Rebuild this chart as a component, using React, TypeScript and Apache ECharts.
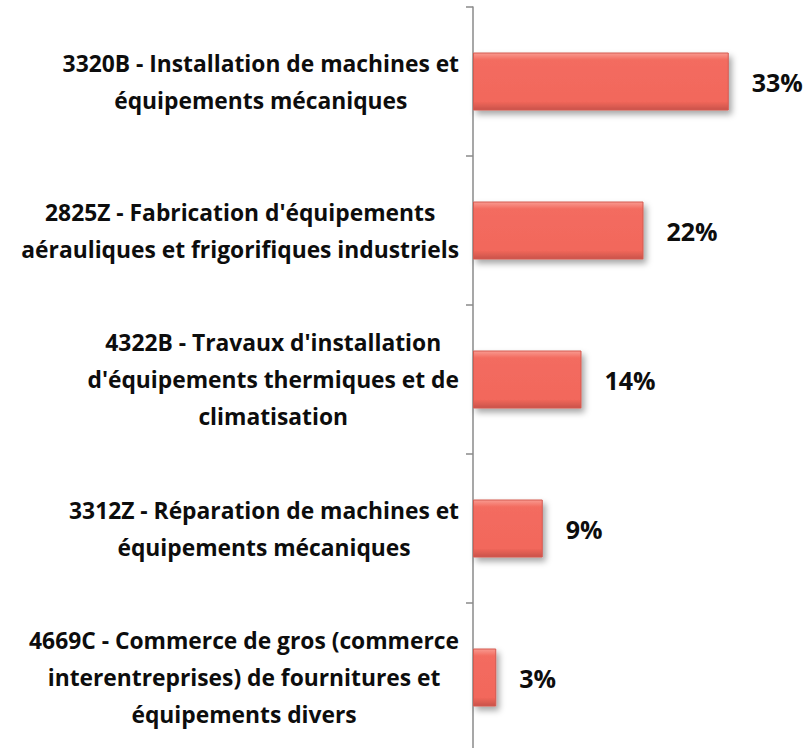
import React, { useEffect, useRef } from "react";
import * as echarts from "echarts";

const categories: string[][] = [
  ["3320B - Installation de machines et", "équipements mécaniques"],
  ["2825Z - Fabrication d'équipements", "aérauliques et frigorifiques industriels"],
  ["4322B - Travaux d'installation", "d'équipements thermiques et de", "climatisation"],
  ["3312Z - Réparation de machines et", "équipements mécaniques"],
  ["4669C - Commerce de gros (commerce", "interentreprises) de fournitures et", "équipements divers"],
];
const values: number[] = [33, 22, 14, 9, 3];

const FONT = "'Open Sans', Lato, sans-serif";

export default function App() {
  const ref = useRef<HTMLDivElement>(null);
  useEffect(() => {
    if (!ref.current) return;
    const chart = echarts.init(ref.current, null, { renderer: "svg" });
    chart.setOption({
      animation: false,
      backgroundColor: "#ffffff",
      grid: { left: 473, right: 26, top: 7, bottom: -4, containLabel: false, outerBoundsMode: "none" },
      xAxis: { type: "value", min: 0, max: 40, show: false },
      yAxis: {
        type: "category",
        inverse: true,
        data: categories.map((c) => c.join("\n")),
        axisLine: { show: true, lineStyle: { color: "#8a8a8a", width: 1.5 } },
        axisTick: { show: true, length: 7, lineStyle: { color: "#8a8a8a", width: 1.5 } },
        axisLabel: {
          margin: 14,
          align: "right",
          formatter: (v: string) =>
            v
              .split("\n")
              .map((l) => "{c|" + l + "}")
              .join("\n"),
          rich: {
            c: {
              align: "center",
              fontFamily: FONT,
              fontWeight: "bold",
              fontSize: 22.8,
              lineHeight: 37,
              color: "#0d0d0d",
            },
          },
        },
        splitLine: { show: false },
      },
      series: [
        {
          type: "bar",
          data: values,
          barWidth: 58,
          itemStyle: {
            color: new echarts.graphic.LinearGradient(0, 0, 0, 1, [
              { offset: 0, color: "#f99a90" },
              { offset: 0.12, color: "#f36c60" },
              { offset: 0.85, color: "#f2675b" },
              { offset: 1, color: "#c9534a" },
            ]),
            borderColor: "#d45a50",
            borderWidth: 1,
            shadowColor: "rgba(0,0,0,0.35)",
            shadowBlur: 6,
            shadowOffsetX: 3,
            shadowOffsetY: 4,
          },
          label: {
            show: true,
            position: "right",
            distance: 23,
            formatter: "{c}%",
            fontFamily: FONT,
            fontWeight: "bold",
            fontSize: 25,
            color: "#0d0d0d",
          },
        },
      ],
    });
    return () => chart.dispose();
  }, []);
  return (
    <div
      ref={ref}
      style={{ position: "fixed", left: 0, top: 0, width: 809, height: 748, background: "#fff" }}
    />
  );
}
